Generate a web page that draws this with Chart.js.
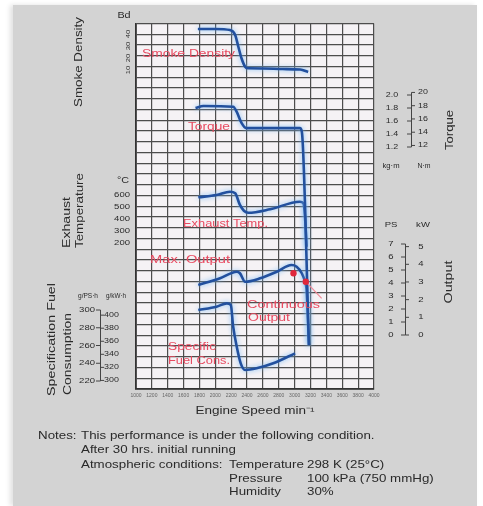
<!DOCTYPE html>
<html><head><meta charset="utf-8">
<script src="https://cdn.jsdelivr.net/npm/chart.js@4.4.1/dist/chart.umd.min.js"></script>
<style>
html,body{margin:0;padding:0;background:#fff;width:483px;height:506px;overflow:hidden;}
#panel{position:absolute;left:13px;top:5px;width:464px;height:501px;background:#d3d3d3;box-shadow:-3px 0 5px rgba(0,0,0,0.12);}
#wrap{position:absolute;left:0;top:0;width:483px;height:506px;}
.n{position:absolute;font-family:"Liberation Sans",Arial,sans-serif;font-size:10.5px;line-height:12px;color:#2a2a2a;white-space:nowrap;transform:scaleX(1.27);transform-origin:0 50%;}
</style></head><body>
<div id="panel"></div>
<div id="wrap"><canvas id="c" width="483" height="506"></canvas></div>
<div class="n" style="left:38px;top:429px">Notes:</div>
<div class="n" style="left:81px;top:429px">This performance is under the following condition.</div>
<div class="n" style="left:81px;top:443px">After 30 hrs. initial running</div>
<div class="n" style="left:81px;top:458px">Atmospheric conditions:</div>
<div class="n" style="left:229px;top:458px">Temperature</div>
<div class="n" style="left:307px;top:458px">298 K (25°C)</div>
<div class="n" style="left:229px;top:472px">Pressure</div>
<div class="n" style="left:307px;top:472px">100 kPa (750 mmHg)</div>
<div class="n" style="left:229px;top:485px">Humidity</div>
<div class="n" style="left:307px;top:485px">30%</div>
<script>
// ---------- data ----------
const rpmTicks = [1000,1200,1400,1600,1800,2000,2200,2400,2600,2800,3000,3200,3400,3600,3800,4000];

const smokeRpm = [1780,2000,2185,2250,2290,2330,2375,2415,2600,2850,3070,3170];
const smokeBd  = [44.2,44.2,43.3,39.2,29.4,19.8,12.8,11.4,11.3,10.8,10.4,8.3];

const torqueRpm = [1750,1850,2225,2270,2330,2390,2800,3065,3090,3180];
const torqueKgm = [1.80,1.83,1.82,1.74,1.57,1.49,1.49,1.49,1.44,-1.85];

const exhaustRpm = [1785,2015,2185,2250,2310,2360,2415,2690,3065,3110,3130,3150];
const exhaustC   = [581,600,627,614,517,469,452,481,544,531,419,169];

const outputRpm = [1785,2060,2270,2310,2375,2565,2775,2960,3025,3090,3130,3150,3180];
const outputPS  = [3.85,4.36,4.87,4.75,4.10,4.36,4.87,5.38,5.25,4.75,4.10,3.46,-0.77];

const contRpm = [2985,3140];
const contPS  = [4.75,4.10];

const fuelRpm  = [1785,2015,2145,2195,2225,2270,2320,2375,2520,2730,3005];
const fuelGpsh = [300,303.7,307.5,305.6,281.2,258.6,239.9,232.4,234.3,239.9,251.2];

const smokeTicks   = [10,20,30,40];
const tempTicks    = [200,300,400,500,600];
const fuelTicks    = [220,240,260,280,300];
const fuelKwhTicks = [300,320,340,360,380,400];
const torqueKgmTicks = [1.2,1.4,1.6,1.8,2.0];
const torqueNmTicks  = [12,14,16,18,20];
const outputPSTicks  = [0,1,2,3,4,5,6,7];
const outputKwTicks  = [0,1,2,3,4,5];

// ---------- layout ----------
const AREA = {left:136, right:374, top:23.5, bottom:389};
function rangeFor(v0, p0, k){ return {min: v0 - (AREA.bottom - p0)/k, max: v0 + (p0 - AREA.top)/k}; }
function scaled(r, f){ return {min:r.min*f, max:r.max*f}; }
const rSmoke = rangeFor(40,34,1.2);
const rTemp = rangeFor(600,195,0.12);
const rFuel = rangeFor(300,310,0.8875);
const rFuelKwh = scaled(rFuel,1.3596);
const rTorque = rangeFor(2.0,95,65);
const rTorqueNm = scaled(rTorque,9.80665);
const rOut = rangeFor(0,335,13);
const rOutKw = scaled(rOut,0.7355);

const FONT = '"Liberation Sans", Arial, sans-serif';
const SX = 1.27;
const BLUE = '#22509e';
const RED = '#e84a60';
const INK = '#2a2a2a';

function pts(xs, ys){ return xs.map((x,i)=>({x:x, y:ys[i]})); }

function txt(ctx, s, x, y, o){
  o = o || {};
  ctx.save();
  ctx.font = (o.weight||'normal') + ' ' + (o.size||8) + 'px ' + FONT;
  ctx.fillStyle = o.color || INK;
  ctx.textBaseline = 'middle';
  ctx.textAlign = o.align || 'center';
  ctx.translate(x, y);
  if (o.rotate) ctx.rotate(-Math.PI/2);
  let sx = SX;
  if (o.width) sx = o.width / ctx.measureText(s).width;
  ctx.scale(sx, 1);
  ctx.fillText(s, 0, 0);
  ctx.restore();
}

const redLabels = [
  {t:'Smoke Density', x:142, y:54.5, w:93},
  {t:'Torque', x:188, y:127, w:42},
  {t:'Exhaust Temp.', x:183, y:224.5, w:85},
  {t:'Max. Output', x:150, y:260, w:80},
  {t:'Continuous', x:247, y:305, w:73},
  {t:'Output', x:248, y:318, w:42},
  {t:'Specific', x:168, y:347.5, w:48},
  {t:'Fuel Cons.', x:168, y:361.5, w:62}
];

const sideTicks = [
  {axis:'ySmoke', ticks:smokeTicks, x:128, align:'center', rotate:true, size:6},
  {axis:'yTemp', ticks:tempTicks, x:130, align:'right', size:7.5},
  {axis:'yFuel', ticks:fuelTicks, x:95, align:'right', size:7.5},
  {axis:'yFuelKwh', ticks:fuelKwhTicks, x:104, align:'left', size:7},
  {axis:'yTorque', ticks:torqueKgmTicks, x:392, align:'center', size:7, fmt:v=>v.toFixed(1)},
  {axis:'yTorqueNm', ticks:torqueNmTicks, x:423, align:'center', size:7},
  {axis:'yOut', ticks:outputPSTicks, x:391, align:'center', size:7.5},
  {axis:'yOutKw', ticks:outputKwTicks, x:421, align:'center', size:7.5}
];

const brackets = [
  {x:100, left:{axis:'yFuel', ticks:fuelTicks}, right:{axis:'yFuelKwh', ticks:fuelKwhTicks}},
  {x:411, left:{axis:'yTorque', ticks:torqueKgmTicks}, right:{axis:'yTorqueNm', ticks:torqueNmTicks}},
  {x:405, left:{axis:'yOut', ticks:outputPSTicks}, right:{axis:'yOutKw', ticks:outputKwTicks}}
];

const bgPlugin = {
  id:'bg',
  beforeDraw(chart){
    const {ctx, chartArea:a} = chart;
    ctx.save();
    ctx.fillStyle = '#f5f2f5';
    ctx.fillRect(a.left, a.top, a.right-a.left, a.bottom-a.top);
    ctx.restore();
  }
};

const glowSet = new Set(['Smoke Density','Torque','Exhaust Temperature','Max. Output','Specific Fuel Consumption']);
const glowPlugin = {
  id:'glow',
  beforeDatasetDraw(chart, args){
    const ctx = chart.ctx;
    ctx.save();
    if (glowSet.has(chart.data.datasets[args.index].label)) {
      ctx.shadowColor = 'rgba(120,185,245,0.95)';
      ctx.shadowBlur = 5;
    }
  },
  afterDatasetDraw(chart){ chart.ctx.restore(); }
};

const decoPlugin = {
  id:'deco',
  afterDraw(chart){
    const ctx = chart.ctx;
    const S = chart.scales;
    redLabels.forEach(l => txt(ctx, l.t, l.x, l.y, {size:10, color:RED, align:'left', width:l.w}));
    sideTicks.forEach(st => {
      const sc = S[st.axis];
      st.ticks.forEach(v => {
        const y = sc.getPixelForValue(v);
        txt(ctx, st.fmt ? st.fmt(v) : String(v), st.x, y, {size:st.size, align:st.align, rotate:st.rotate});
      });
    });
    ctx.save();
    ctx.strokeStyle = '#444';
    ctx.lineWidth = 1;
    brackets.forEach(b => {
      const ls = S[b.left.axis], rs = S[b.right.axis];
      const ys = b.left.ticks.map(v => ls.getPixelForValue(v)).concat(b.right.ticks.map(v => rs.getPixelForValue(v)));
      const y0 = Math.min.apply(null, ys), y1 = Math.max.apply(null, ys);
      ctx.beginPath();
      ctx.moveTo(b.x+0.5, y0); ctx.lineTo(b.x+0.5, y1);
      b.left.ticks.forEach(v => { const y = ls.getPixelForValue(v); ctx.moveTo(b.x-4, y); ctx.lineTo(b.x+0.5, y); });
      b.right.ticks.forEach(v => { const y = rs.getPixelForValue(v); ctx.moveTo(b.x+0.5, y); ctx.lineTo(b.x+4, y); });
      ctx.stroke();
    });
    ctx.restore();
    txt(ctx, 'Smoke Density', 79, 62, {size:10, rotate:true, width:90});
    txt(ctx, 'Exhaust', 67, 248, {size:10, rotate:true, align:'left', width:51});
    txt(ctx, 'Temperature', 80, 248, {size:10, rotate:true, align:'left', width:75});
    txt(ctx, 'Specification Fuel', 52, 396, {size:10, rotate:true, align:'left', width:113});
    txt(ctx, 'Consumption', 68, 395, {size:10, rotate:true, align:'left', width:82});
    txt(ctx, 'Torque', 450, 130, {size:10, rotate:true, width:40});
    txt(ctx, 'Output', 449, 282, {size:10, rotate:true, width:43});
    txt(ctx, 'Bd', 124, 16, {size:8.5});
    txt(ctx, '°C', 123, 181, {size:8.5});
    txt(ctx, 'g/PS·h', 88, 296, {size:6.5, width:20});
    txt(ctx, 'g/kW·h', 116, 296, {size:6.5, width:20});
    txt(ctx, 'kg·m', 391, 166, {size:7.5, width:17});
    txt(ctx, 'N·m', 424, 166, {size:7.5, width:13});
    txt(ctx, 'PS', 391, 225, {size:7.5});
    txt(ctx, 'kW', 423, 225, {size:7.5});
    txt(ctx, 'Engine Speed min⁻¹', 255, 411, {size:10, width:119});
  }
};

const hiddenY = (r) => ({type:'linear', display:false, min:r.min, max:r.max});

new Chart(document.getElementById('c'), {
  type:'line',
  data:{
    datasets:[
      {label:'Continuous Output', type:'scatter', data:pts(contRpm, contPS), yAxisID:'yOut',
       pointRadius:3.2, pointBackgroundColor:'#e0283c', pointBorderWidth:0, showLine:false},
      {label:'Continuous Output leader', data:[{x:contRpm[1], y:contPS[1]}, {x:3340, y:2.82}], yAxisID:'yOut',
       borderColor:'#f08a98', borderWidth:1.2, pointRadius:0},
      {label:'Smoke Density', data:pts(smokeRpm, smokeBd), yAxisID:'ySmoke'},
      {label:'Torque', data:pts(torqueRpm, torqueKgm), yAxisID:'yTorque'},
      {label:'Exhaust Temperature', data:pts(exhaustRpm, exhaustC), yAxisID:'yTemp'},
      {label:'Max. Output', data:pts(outputRpm, outputPS), yAxisID:'yOut'},
      {label:'Specific Fuel Consumption', data:pts(fuelRpm, fuelGpsh), yAxisID:'yFuel'}
    ]
  },
  options:{
    responsive:false, animation:false, devicePixelRatio:1,
    layout:{padding:{left:AREA.left, right:483-AREA.right, top:AREA.top, bottom:506-AREA.bottom-30}},
    elements:{
      line:{borderColor:BLUE, borderWidth:2.6, cubicInterpolationMode:'monotone', fill:false},
      point:{radius:0}
    },
    plugins:{legend:{display:false}, tooltip:{enabled:false}},
    scales:{
      x:{type:'linear', position:'bottom', min:1000, max:4000,
         afterBuildTicks:s=>{ s.ticks = rpmTicks.map(v=>({value:v})); },
         afterFit:s=>{ s.height = 30; },
         grid:{color:'#4d4d4d', lineWidth:1.2, drawTicks:false},
         border:{color:'#333', width:1.8},
         ticks:{font:{size:5, family:FONT}, color:'#666', padding:4, maxRotation:0, autoSkip:false,
                callback:v=>String(v)}},
      grid:{type:'linear', position:'left', min:0, max:34,
         afterFit:s=>{ s.width = 0; },
         grid:{color:'#4d4d4d', lineWidth:1.2, drawTicks:false},
         border:{color:'#333', width:1.8},
         ticks:{display:false, stepSize:1}},
      ySmoke:hiddenY(rSmoke),
      yTemp:hiddenY(rTemp),
      yFuel:hiddenY(rFuel),
      yFuelKwh:hiddenY(rFuelKwh),
      yTorque:hiddenY(rTorque),
      yTorqueNm:hiddenY(rTorqueNm),
      yOut:hiddenY(rOut),
      yOutKw:hiddenY(rOutKw)
    }
  },
  plugins:[bgPlugin, glowPlugin, decoPlugin]
});
</script>
</body></html>
